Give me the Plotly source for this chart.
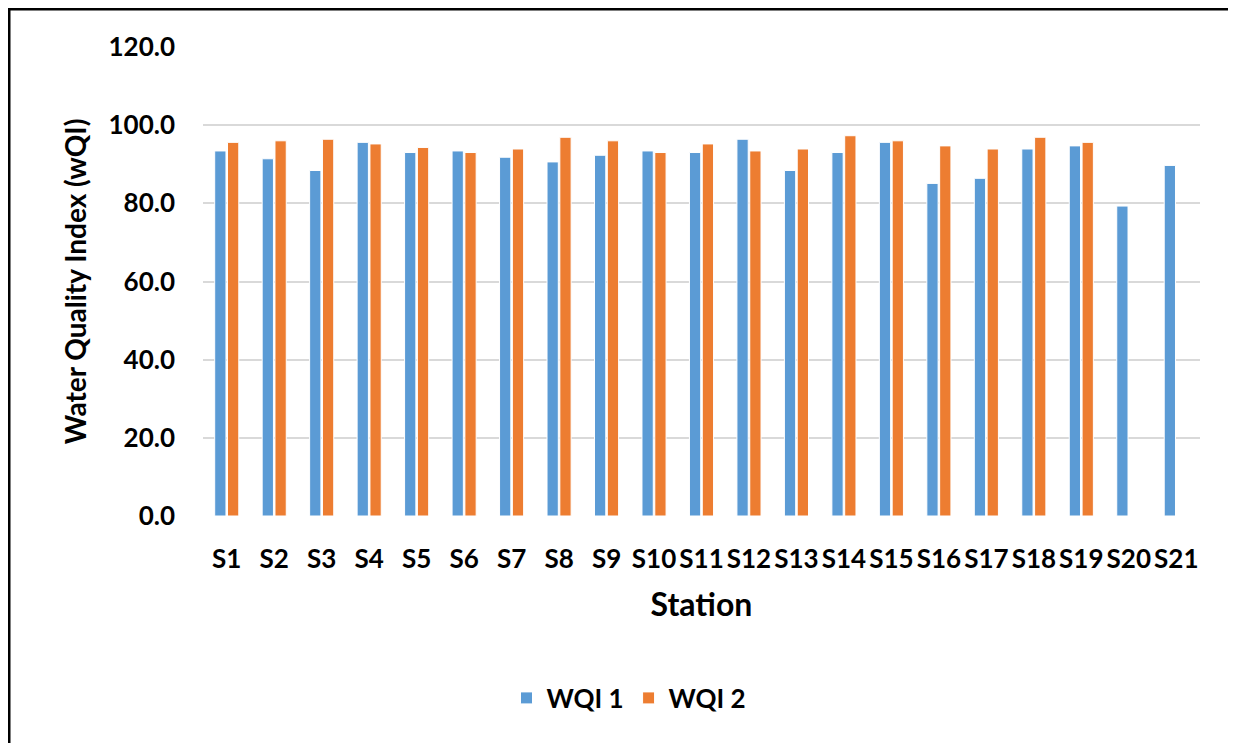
import plotly.graph_objects as go

stations = ["S1", "S2", "S3", "S4", "S5", "S6", "S7", "S8", "S9", "S10", "S11",
            "S12", "S13", "S14", "S15", "S16", "S17", "S18", "S19", "S20", "S21"]
wqi1 = [93.4, 91.4, 88.4, 95.6, 93.0, 93.4, 91.8, 90.6, 92.3, 93.4, 93.0,
        96.4, 88.4, 93.0, 95.6, 85.1, 86.4, 93.9, 94.7, 79.3, 89.7]
wqi2 = [95.6, 96.0, 96.4, 95.2, 94.3, 93.0, 93.9, 96.9, 96.0, 93.0, 95.2,
        93.4, 93.9, 97.3, 96.0, 94.7, 93.9, 96.9, 95.6, None, None]
y_ticks = [0, 20, 40, 60, 80, 100, 120]

# page body has an 8px margin, so the figure is offset by 8px
OFF = 8
W, H = 1236 - OFF, 743 - OFF
L, T = 203 - OFF, 47 - OFF
R = W - (1200 - OFF)
B = H - (516 - OFF)
pw, ph = W - L - R, H - T - B

def px(x):
    return (x - OFF - L) / pw

def py(y):
    return (H - B - (y - OFF)) / ph

font_family = "Lato, 'Open Sans', sans-serif"

fig = go.Figure()
fig.add_trace(go.Bar(x=stations, y=wqi1, name="WQI 1",
                     marker=dict(color="#5B9BD5", line=dict(color="white", width=1))))
fig.add_trace(go.Bar(x=stations, y=wqi2, name="WQI 2",
                     marker=dict(color="#ED7D31", line=dict(color="white", width=1))))

fig.update_layout(
    width=W, height=H,
    margin=dict(l=L, r=R, t=T, b=B, autoexpand=False),
    paper_bgcolor="white", plot_bgcolor="white",
    barmode="group", bargap=0.46, bargroupgap=0.12,
    font=dict(family=font_family, color="black", size=20),
    legend=dict(orientation="h", x=px(629), xanchor="center", y=py(698), yanchor="middle",
                font=dict(size=26, family=font_family, weight="bold"),
                traceorder="normal"),
    showlegend=True,
)
fig.update_xaxes(
    tickfont=dict(size=26, family=font_family, weight="bold"),
    ticklabelstandoff=25,
    title=dict(text="Station", font=dict(size=32, family=font_family, weight="bold"), standoff=20),
    showgrid=False, showline=False, ticks="",
)
fig.update_yaxes(
    range=[0, 120], tickvals=y_ticks,
    ticktext=[f"{v:.1f}" for v in y_ticks],
    tickfont=dict(size=26, family=font_family, weight="bold"),
    gridcolor="#D9D9D9", gridwidth=1.5, zeroline=False, showline=False,
    ticklabelstandoff=27,
    title=dict(text="Water Quality Index (wQI)",
               font=dict(size=28, family=font_family, weight="bold"), standoff=13),
)
fig.add_shape(type="rect", xref="paper", yref="paper",
              x0=px(9), x1=px(1233), y0=py(780), y1=py(9),
              line=dict(color="black", width=3), fillcolor="rgba(0,0,0,0)", layer="above")

fig.write_html("out.html")
